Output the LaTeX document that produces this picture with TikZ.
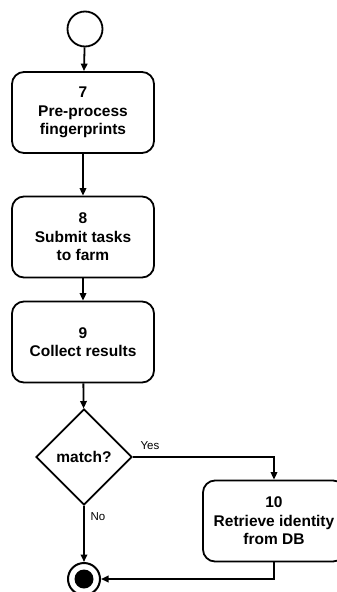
\documentclass[tikz,border=0pt]{standalone}
\usepackage{fontspec}
\setmainfont{Liberation Sans}
\usetikzlibrary{shapes.geometric,arrows.meta}
\begin{document}
\begin{tikzpicture}[x=1pt,y=-1pt,
  every node/.style={font=\fontsize{15.5}{18.5}\selectfont\bfseries},
  stepbox/.style={draw,line width=1.8pt,rounded corners=12pt,minimum width=142pt,
    minimum height=81pt,align=center,inner sep=0pt},
  decision/.style={draw,line width=1.8pt,diamond,aspect=1,minimum size=96pt,inner sep=0pt},
  flow/.style={line width=1.8pt,-{Triangle[length=7.5pt,width=6.5pt]}},
  guard/.style={font=\fontsize{11.5}{13}\selectfont,inner sep=0pt}]
\clip (0,0) rectangle (337,592);
\fill[white] (0,0) rectangle (337,592);

% initial node
\node[draw,circle,line width=1.8pt,minimum size=35pt,inner sep=0pt] (start) at (85,29) {};

% activities
\node[stepbox] (pre) at (83,112.5) {7\\Pre-process\\fingerprints};
\node[stepbox] (sub) at (83,237) {8\\Submit tasks\\to farm};
\node[stepbox] (col) at (83,342) {9\\Collect results};
\node[decision] (match) at (84,457) {match?};
\node[stepbox] (ret) at (274,521) {10\\Retrieve identity\\from DB};

% final node
\node[draw,circle,line width=2pt,minimum size=32pt,inner sep=0pt] (end) at (84,579) {};
\fill (end.center) circle (9.5pt);

% control flow
\draw[flow] (start) -- (pre);
\draw[flow] (pre) -- (sub);
\draw[flow] (sub) -- (col);
\draw[flow] (col) -- (match);
\draw[flow] (match.east) -| (ret.north);
\draw[flow] (match.south) -- (end.north);
\draw[flow] (ret.south) |- (end.east);

% guards
\node[guard] (yes) at (150,446) {Yes};
\node[guard] (no) at (98,517) {No};
\end{tikzpicture}
\end{document}
